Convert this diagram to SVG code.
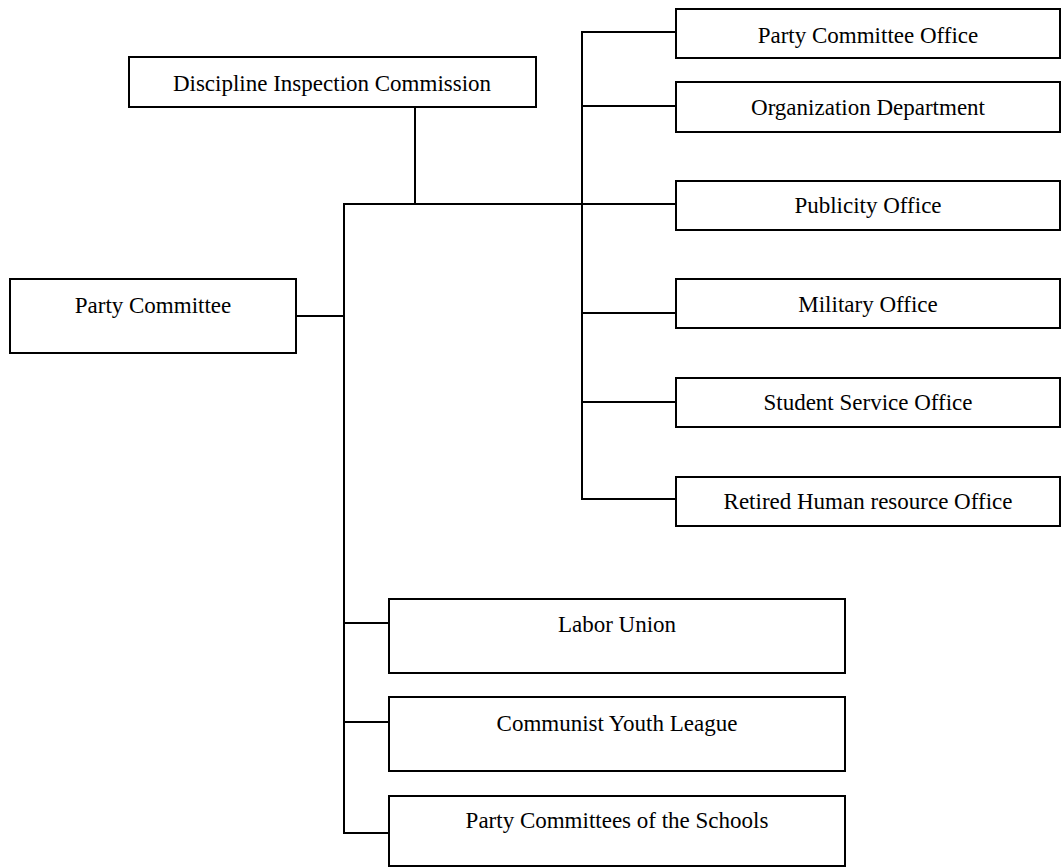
<svg xmlns="http://www.w3.org/2000/svg" width="1062" height="868" viewBox="0 0 1062 868">
  <style>
    .box { fill: #fff; stroke: #000; stroke-width: 2; }
    .lbl { font-family: "Liberation Serif", "Times New Roman", serif; font-size: 23px; fill: #000; text-anchor: middle; }
    .wire { fill: none; stroke: #000; stroke-width: 2; }
  </style>
  <rect width="1062" height="868" fill="#fff"/>

  <!-- connectors -->
  <g id="connectors" class="wire">
    <!-- commission down to main bus -->
    <line x1="415" y1="107" x2="415" y2="204"/>
    <!-- main horizontal bus to right column -->
    <line x1="344" y1="204" x2="676" y2="204"/>
    <!-- left vertical bus -->
    <line x1="344" y1="203" x2="344" y2="834"/>
    <!-- party committee to bus -->
    <line x1="296" y1="316" x2="344" y2="316"/>
    <!-- right vertical bus -->
    <line x1="582" y1="31" x2="582" y2="500"/>
    <line x1="581" y1="32" x2="676" y2="32"/>
    <line x1="582" y1="106" x2="676" y2="106"/>
    <line x1="582" y1="313" x2="676" y2="313"/>
    <line x1="582" y1="402" x2="676" y2="402"/>
    <line x1="581" y1="499" x2="676" y2="499"/>
    <!-- lower branches -->
    <line x1="344" y1="623" x2="389" y2="623"/>
    <line x1="344" y1="722" x2="389" y2="722"/>
    <line x1="343" y1="833" x2="389" y2="833"/>
  </g>

  <g id="discipline-inspection-commission">
    <rect class="box" x="129" y="57" width="407" height="50"/>
    <text class="lbl" x="332" y="91">Discipline Inspection Commission</text>
  </g>

  <g id="party-committee">
    <rect class="box" x="10" y="279" width="286" height="74"/>
    <text class="lbl" x="153" y="313">Party Committee</text>
  </g>

  <g id="party-committee-office">
    <rect class="box" x="676" y="9" width="384" height="49"/>
    <text class="lbl" x="868" y="43">Party Committee Office</text>
  </g>

  <g id="organization-department">
    <rect class="box" x="676" y="82" width="384" height="50"/>
    <text class="lbl" x="868" y="115">Organization  Department</text>
  </g>

  <g id="publicity-office">
    <rect class="box" x="676" y="181" width="384" height="49"/>
    <text class="lbl" x="868" y="213">Publicity Office</text>
  </g>

  <g id="military-office">
    <rect class="box" x="676" y="279" width="384" height="49"/>
    <text class="lbl" x="868" y="312">Military Office</text>
  </g>

  <g id="student-service-office">
    <rect class="box" x="676" y="378" width="384" height="49"/>
    <text class="lbl" x="868" y="410">Student Service Office</text>
  </g>

  <g id="retired-human-resource-office">
    <rect class="box" x="676" y="477" width="384" height="49"/>
    <text class="lbl" x="868" y="509">Retired Human resource Office</text>
  </g>

  <g id="labor-union">
    <rect class="box" x="389" y="599" width="456" height="74"/>
    <text class="lbl" x="617" y="632">Labor Union</text>
  </g>

  <g id="communist-youth-league">
    <rect class="box" x="389" y="697" width="456" height="74"/>
    <text class="lbl" x="617" y="731">Communist Youth League</text>
  </g>

  <g id="party-committees-of-the-schools">
    <rect class="box" x="389" y="796" width="456" height="70"/>
    <text class="lbl" x="617" y="828">Party Committees of the Schools</text>
  </g>
</svg>
